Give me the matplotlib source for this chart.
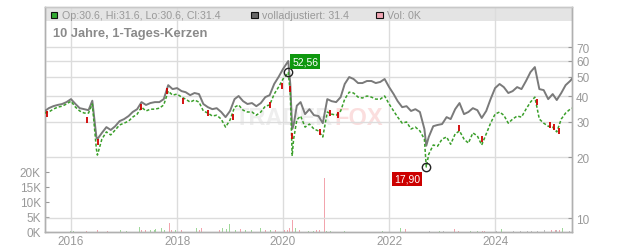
import matplotlib
matplotlib.use("Agg")
import matplotlib.pyplot as plt
from matplotlib.patches import Rectangle
from matplotlib.ticker import FixedLocator, NullLocator
import pandas as pd

plt.rcParams['font.family'] = ['Liberation Sans', 'DejaVu Sans']

# ---------------- data ----------------
dates = [
    "2015-07-06", "2015-08-01", "2015-09-01", "2015-10-01", "2015-11-01", "2015-12-01",
    "2016-01-01", "2016-02-01", "2016-03-01", "2016-04-01", "2016-05-01", "2016-05-27",
    "2016-06-24", "2016-07-01", "2016-08-01", "2016-09-01", "2016-10-01", "2016-11-01", "2016-12-01",
    "2017-01-01", "2017-02-01", "2017-03-01", "2017-04-01", "2017-05-01", "2017-06-01",
    "2017-07-01", "2017-08-01", "2017-09-01", "2017-10-01", "2017-11-01", "2017-12-01",
    "2018-01-01", "2018-02-01", "2018-03-01", "2018-04-01", "2018-05-01", "2018-06-01",
    "2018-07-01", "2018-08-01", "2018-09-01", "2018-10-01", "2018-11-01", "2018-12-01",
    "2019-01-01", "2019-02-01", "2019-03-01", "2019-04-01", "2019-05-01", "2019-06-01",
    "2019-07-01", "2019-08-01", "2019-09-01", "2019-10-01", "2019-11-01", "2019-12-01",
    "2020-01-01", "2020-02-06", "2020-02-20", "2020-03-04", "2020-03-14", "2020-04-05",
    "2020-05-01", "2020-06-01", "2020-07-01", "2020-08-01", "2020-09-01", "2020-10-01",
    "2020-11-01", "2020-12-01",
    "2021-01-01", "2021-02-01", "2021-03-01", "2021-04-01", "2021-05-01", "2021-06-01",
    "2021-07-01", "2021-08-01", "2021-09-01", "2021-10-01", "2021-11-01", "2021-12-01",
    "2022-01-01", "2022-02-01", "2022-03-01", "2022-04-01", "2022-05-01", "2022-06-01",
    "2022-07-01", "2022-08-01", "2022-09-01", "2022-09-14", "2022-10-01", "2022-11-01", "2022-12-01",
    "2023-01-01", "2023-02-01", "2023-03-01", "2023-04-01", "2023-05-01", "2023-06-01",
    "2023-07-01", "2023-08-01", "2023-09-01", "2023-10-01", "2023-11-01", "2023-12-01",
    "2024-01-01", "2024-02-01", "2024-03-01", "2024-04-01", "2024-05-01", "2024-06-01",
    "2024-07-01", "2024-08-01", "2024-09-01", "2024-10-01", "2024-11-01", "2024-12-01",
    "2025-01-01", "2025-02-01", "2025-03-01", "2025-04-01", "2025-05-01", "2025-06-01", "2025-06-13",
]

adjusted = [
    33.9, 35.0, 35.8, 36.3, 36.7, 37.5,
    38.8, 36.7, 35.0, 34.6, 34.2, 38.1,
    25.2, 24.6, 26.4, 28.2, 27.3, 28.5, 30.2,
    30.9, 32.0, 33.5, 34.6, 37.5, 36.3,
    37.1, 37.5, 37.5, 38.8, 45.5, 43.5,
    44.0, 42.5, 42.0, 40.6, 41.6, 41.1,
    36.7, 35.4, 34.6, 35.0, 33.5, 31.6,
    33.9, 38.8, 40.2, 37.9, 36.7, 37.1,
    35.8, 37.1, 39.7, 40.6, 46.1, 49.9,
    54.7, 59.9, 46.1, 27.6, 28.9, 36.0,
    37.5, 32.7, 34.6, 32.3, 32.0, 29.5,
    38.8, 37.9,
    37.5, 39.7, 46.1, 49.9, 48.8, 46.6,
    46.6, 47.7, 47.7, 46.6, 47.2, 48.8,
    44.5, 41.1, 37.9, 35.4, 35.8, 33.9,
    34.6, 33.5, 27.6, 22.8, 25.2, 28.5, 28.9,
    29.2, 31.6, 30.9, 34.6, 37.1, 32.7,
    33.5, 35.0, 34.2, 31.3, 33.9, 38.8,
    44.0, 46.1, 44.5, 41.6, 42.5, 44.5,
    43.5, 47.7, 52.8, 55.9, 43.5, 43.0,
    38.8, 41.1, 38.4, 41.6, 45.5, 47.7, 48.8,
]

price = [
    33.1, 33.5, 34.6, 35.4, 35.8, 36.7,
    37.9, 35.4, 33.9, 33.1, 33.1, 36.7,
    22.0, 20.5, 24.6, 26.7, 25.8, 27.3, 28.9,
    29.5, 30.2, 31.6, 32.7, 35.4, 33.9,
    34.6, 34.6, 35.0, 36.3, 42.5, 40.6,
    41.1, 39.7, 38.8, 37.5, 38.4, 37.5,
    33.9, 33.1, 32.0, 32.3, 30.9, 28.2,
    30.6, 35.4, 36.3, 34.2, 33.5, 33.5,
    32.3, 33.5, 35.8, 36.3, 41.1, 44.5,
    48.8, 52.56, 41.6, 20.3, 24.6, 30.6,
    32.0, 28.2, 29.2, 27.6, 27.0, 25.2,
    33.5, 32.7,
    32.3, 33.9, 38.8, 42.0, 41.6, 39.7,
    39.3, 40.2, 39.7, 38.8, 38.8, 40.2,
    36.7, 33.9, 31.6, 29.5, 29.9, 27.6,
    28.2, 27.0, 24.6, 17.90, 20.7, 23.0, 22.7,
    24.6, 25.2, 23.2, 26.1, 27.0, 24.6,
    23.5, 26.4, 25.5, 23.0, 26.1, 29.5,
    32.7, 33.5, 32.3, 29.5, 30.9, 32.0,
    31.6, 34.6, 37.5, 39.7, 30.9, 29.5,
    28.5, 28.2, 26.7, 30.9, 33.1, 34.6, 35.0,
]

red_dates = ["2015-07-17", "2016-04-18", "2016-07-03", "2017-04-28", "2017-10-26", "2018-02-11",
             "2018-08-03", "2019-01-21", "2019-10-04", "2019-12-23", "2020-02-18", "2020-03-01",
             "2020-09-13", "2020-11-21", "2021-01-16", "2023-04-27", "2023-10-04", "2024-10-15",
             "2025-01-13", "2025-02-12", "2025-03-16"]
red_vals = [32.8, 30.5, 23.8, 35.4, 42.5, 38.0, 33.0, 31.5, 36.3, 45.0, 43.5, 25.6,
            26.7, 33.0, 32.5, 27.8, 24.5, 37.5, 29.0, 28.2, 27.0]

vol_dates = ["2015-12-30", "2016-01-17", "2016-03-31", "2016-04-15", "2016-06-30", "2016-09-07",
             "2016-12-08", "2016-12-31", "2017-01-19", "2017-04-16", "2017-04-30", "2017-05-19",
             "2017-05-28", "2017-06-15", "2017-07-04", "2017-07-27", "2017-08-05", "2017-09-15",
             "2017-10-04", "2017-10-31", "2017-11-09", "2017-11-23", "2017-12-23", "2018-01-31",
             "2018-02-10", "2018-04-06", "2018-04-28", "2018-05-14", "2018-06-02", "2018-06-18",
             "2018-07-06", "2018-08-03", "2018-09-13", "2018-10-20", "2018-11-09", "2018-11-21",
             "2018-12-10", "2018-12-28", "2019-02-10", "2019-03-16", "2019-04-15", "2019-05-28",
             "2019-08-01", "2019-08-31", "2019-10-09", "2019-11-12", "2019-12-05", "2020-01-09",
             "2020-01-31", "2020-02-17", "2020-03-06", "2020-03-17", "2020-03-29", "2020-04-21",
             "2020-05-10", "2020-06-24", "2020-07-28", "2020-08-21", "2020-09-06", "2020-10-12",
             "2020-10-29", "2020-11-25", "2021-02-27", "2021-03-16", "2021-11-16", "2022-03-18",
             "2022-04-23", "2022-06-29", "2022-10-04", "2022-12-14", "2023-01-10", "2023-03-27",
             "2023-04-24", "2023-07-18", "2023-09-04", "2023-09-20", "2023-10-06", "2023-10-20",
             "2024-01-13", "2024-02-14", "2024-05-07", "2024-06-22", "2024-08-11", "2024-09-10",
             "2024-10-19", "2024-11-13", "2024-12-06", "2024-12-23", "2025-01-14", "2025-01-26",
             "2025-02-18", "2025-03-01", "2025-03-19", "2025-04-09", "2025-05-27"]
vol_k = [0.5, 0.4, 0.4, 0.4, 0.8, 0.4, 0.8, 0.4, 0.4, 1.7, 0.8, 2.0, 0.8, 0.6, 0.6, 0.8,
         1.1, 1.4, 0.8, 0.6, 3.1, 0.6, 0.8, 0.8, 0.8, 0.6, 0.6, 1.2, 0.8, 1.3, 0.6, 0.8,
         0.6, 0.6, 1.5, 1.5, 1.1, 2.8, 0.6, 1.1, 0.8, 0.8, 1.4, 0.6, 0.8, 0.6, 1.8, 0.6,
         0.8, 1.2, 3.9, 4.4, 1.2, 0.6, 0.4, 0.4, 0.4, 0.8, 0.6, 18.0, 0.4, 0.4, 0.4, 0.4,
         0.4, 1.4, 1.1, 0.4, 0.4, 0.4, 0.4, 1.1, 0.4, 0.4, 0.4, 0.4, 0.4, 0.4, 0.4, 1.1,
         0.4, 0.4, 0.4, 0.4, 0.5, 1.0, 0.6, 0.8, 0.6, 0.8, 0.8, 0.6, 0.8, 1.3, 0.4]
# u = up/green, d = down/pink, n = neutral/gray
vol_dir = ["u", "u", "u", "d", "d", "d", "u", "u", "u", "u", "d", "u", "d", "u", "u", "u",
           "u", "u", "u", "d", "d", "d", "u", "d", "u", "d", "d", "u", "d", "d", "u", "d",
           "d", "d", "u", "d", "u", "u", "u", "d", "u", "u", "u", "d", "u", "d", "u", "d",
           "d", "d", "d", "u", "u", "d", "u", "u", "u", "d", "d", "d", "u", "u", "u", "d",
           "u", "u", "d", "n", "n", "u", "n", "d", "d", "u", "u", "u", "d", "d", "n", "u",
           "n", "n", "n", "n", "n", "n", "n", "d", "u", "d", "d", "n", "d", "u", "n"]

price_ticks = [10, 20, 30, 40, 50, 60, 70]
vol_ticks = [0, 5, 10, 15, 20]
vol_tick_labels = ["0K", "5K", "10K", "15K", "20K"]
year_ticks = ["2016-01-01", "2018-01-01", "2020-01-01", "2022-01-01", "2024-01-01"]
year_labels = ["2016", "2018", "2020", "2022", "2024"]
high_date, high_val, high_label = "2020-02-06", 52.56, "52,56"
low_date, low_val, low_label = "2022-09-14", 17.90, "17,90"

# ---------------- figure ----------------
W, H = 632, 253
fig = plt.figure(figsize=(W / 100, H / 100), dpi=100)
L, R, B, T = 45 / W, 572 / W, 20 / H, 245 / H
axv = fig.add_axes([L, B, R - L, T - B])
axp = axv.twinx()

GRID = "#dcdcdc"
SPINE = "#b0b0b0"
TXT = "#999999"

d = pd.to_datetime(dates)
axv.set_xlim(pd.Timestamp("2015-07-06"), pd.Timestamp("2025-06-14"))

# header band
axv.add_patch(Rectangle((0, 1 - 14 / 225), 1, 14 / 225, transform=axv.transAxes,
                        facecolor="#e4e4e4", edgecolor="none", zorder=0))

# volume
cmap = {"u": "#9fd89a", "d": "#f2a4ad", "n": "#bdbdbd"}
axv.bar(pd.to_datetime(vol_dates), vol_k, width=5, color=[cmap[c] for c in vol_dir],
        linewidth=0, zorder=2)
axv.set_ylim(0, 75)
axv.yaxis.set_major_locator(FixedLocator(vol_ticks))
axv.set_yticklabels(vol_tick_labels)
axv.set_axisbelow(True)
axv.set_xticks(pd.to_datetime(year_ticks))
axv.set_xticklabels(year_labels)
axv.grid(axis="x", color=GRID, lw=1)
axv.tick_params(axis="y", direction="in", length=3, color="#999999", labelcolor=TXT,
                labelsize=8.5, pad=3)
axv.tick_params(axis="x", length=0, labelcolor=TXT, labelsize=8.5, pad=2)

# watermark
axv.text(333, H - 125, "TRADER", transform=None, ha="right", va="baseline",
         fontsize=17, fontweight="bold", color="#eeeeee", zorder=1)
axv.text(334, H - 125, "FOX", transform=None, ha="left", va="baseline",
         fontsize=17, fontweight="bold", color="#fbdede", zorder=1)

# price axis
axp.set_yscale("log")
axp.set_ylim(8.53, 110.9)
axp.yaxis.set_major_locator(FixedLocator(price_ticks))
axp.yaxis.set_minor_locator(NullLocator())
axp.set_yticklabels([str(t) for t in price_ticks])
axp.tick_params(axis="y", direction="in", length=3, color="#999999", labelcolor=TXT,
                labelsize=8.5, pad=3)
axp.set_axisbelow(True)
axp.grid(axis="y", color=GRID, lw=1)

axp.plot(d, adjusted, color="#7a7a7a", lw=1.4, zorder=3)
axp.plot(d, price, color="#3a9f2a", lw=1.1, ls=(0, (2, 1.3)), zorder=4)
axp.plot(pd.to_datetime(red_dates), red_vals, ls="none", marker="|", ms=4, mew=1.3,
         color="#d00000", zorder=5)

for ax in (axv, axp):
    for s in ax.spines.values():
        s.set_color(SPINE)
        s.set_linewidth(1)
    ax.spines["top"].set_color("#c8c8c8")

# high / low markers
hd, ld = pd.Timestamp(high_date), pd.Timestamp(low_date)
axp.plot([hd], [high_val], marker="o", ms=6, mfc="none", mec="#222222", mew=1, zorder=6)
axp.plot([ld], [low_val], marker="o", ms=6, mfc="none", mec="#222222", mew=1, zorder=6)
axp.annotate(high_label, xy=(hd, high_val), xytext=(4, 6), textcoords="offset pixels",
             ha="left", va="bottom", color="white", fontsize=7.5, zorder=7,
             bbox=dict(boxstyle="square,pad=0.2", fc="#0f980f", ec="none"))
axp.annotate(low_label, xy=(ld, low_val), xytext=(-6, -7), textcoords="offset pixels",
             ha="right", va="top", color="white", fontsize=7.5, zorder=7,
             bbox=dict(boxstyle="square,pad=0.2", fc="#cc0000", ec="none"))

# header legend
def square(x, y, color):
    fig.add_artist(Rectangle((x / W, (H - y - 7) / H), 6.5 / W, 6.5 / H, transform=fig.transFigure,
                             facecolor=color, edgecolor="#111111", lw=0.8))

square(50.7, 12.3, "#33aa33")
fig.text(62 / W, (H - 15.8) / H, "Op:30.6, Hi:31.6, Lo:30.6, Cl:31.4", color=TXT,
         fontsize=7.7, va="center", ha="left")
square(251, 12.3, "#666666")
fig.text(262 / W, (H - 15.8) / H, "volladjustiert: 31.4", color=TXT,
         fontsize=7.7, va="center", ha="left")
square(376, 12.3, "#f2a6b4")
fig.text(387 / W, (H - 15.8) / H, "Vol: 0K", color=TXT, fontsize=7.7, va="center", ha="left")

fig.text(53 / W, (H - 34) / H, "10 Jahre, 1-Tages-Kerzen", color="#8a8a8a",
         fontsize=9.3, fontweight="bold", va="center", ha="left")

fig.savefig("out.png", dpi=100)
